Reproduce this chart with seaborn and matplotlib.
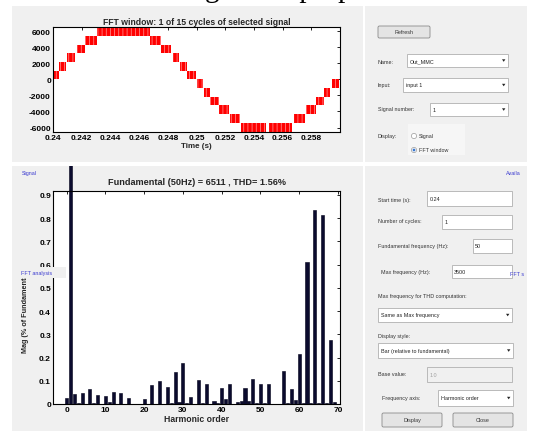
import numpy as np
import pandas as pd
import matplotlib
matplotlib.use("Agg")
from matplotlib import pyplot as plt
from matplotlib import font_manager
from matplotlib.patches import Rectangle, Circle, Polygon, FancyBboxPatch
import seaborn as sns

# ---- values ----
# top plot: PWM bands of the multilevel output voltage (s, V)
band_start = [0.24000, 0.24042, 0.24097, 0.24165, 0.24225, 0.24304, 0.24675, 0.24756,
              0.24833, 0.24884, 0.24935, 0.25000, 0.25051, 0.25097, 0.25157, 0.25232,
              0.25313, 0.25505, 0.25679, 0.25761, 0.25830, 0.25886, 0.25942]
band_end = [0.24042, 0.24088, 0.24151, 0.24225, 0.24304, 0.24675, 0.24756, 0.24819,
            0.24875, 0.24935, 0.25000, 0.25046, 0.25097, 0.25157, 0.25227, 0.25301,
            0.25482, 0.25668, 0.25754, 0.25830, 0.25886, 0.25932, 0.25993]
band_low = [0, 1083, 2167, 3250, 4333, 5417, 4333, 3250, 2167, 1083, 0, -1083,
            -2167, -3250, -4333, -5417, -6500, -6500, -5417, -4333, -3250, -2167, -1083]
band_high = [1083, 2167, 3250, 4333, 5417, 6500, 5417, 4333, 3250, 2167, 1083, 0,
             -1083, -2167, -3250, -4333, -5417, -5417, -4333, -3250, -2167, -1083, 0]

time_ticks = [0.24, 0.242, 0.244, 0.246, 0.248, 0.25, 0.252, 0.254, 0.256, 0.258]
time_labels = ['0.24', '0.242', '0.244', '0.246', '0.248', '0.25', '0.252', '0.254', '0.256', '0.258']
volt_ticks = [-6000, -4000, -2000, 0, 2000, 4000, 6000]

# bottom plot: harmonic spectrum, % of fundamental, orders 0..70
orders = list(range(71))
mag = [0.024, 100.0, 0.043, 0.003, 0.049, 0.002, 0.066, 0.003, 0.037, 0.002,
       0.034, 0.010, 0.050, 0.002, 0.046, 0.002, 0.024, 0.001, 0.002, 0.001,
       0.020, 0.002, 0.080, 0.002, 0.100, 0.002, 0.074, 0.003, 0.137, 0.008,
       0.177, 0.005, 0.030, 0.002, 0.104, 0.003, 0.087, 0.002, 0.014, 0.003,
       0.069, 0.023, 0.084, 0.002, 0.007, 0.013, 0.067, 0.011, 0.107, 0.004,
       0.084, 0.004, 0.084, 0.002, 0.002, 0.001, 0.140, 0.003, 0.066, 0.016,
       0.216, 0.003, 0.612, 0.004, 0.834, 0.003, 0.813, 0.004, 0.275, 0.007,
       0.002]
mag_ticks = [0, 0.1, 0.2, 0.3, 0.4, 0.5, 0.6, 0.7, 0.8, 0.9]
mag_labels = ['0', '0.1', '0.2', '0.3', '0.4', '0.5', '0.6', '0.7', '0.8', '0.9']
order_ticks = [0, 10, 20, 30, 40, 50, 60, 70]

spectrum = pd.DataFrame({'order': orders, 'mag': mag})

sns.set_style("white")
plt.rcParams['font.family'] = ['Liberation Sans', 'DejaVu Sans']
plt.rcParams['hatch.linewidth'] = 0.5

names = {f.name for f in font_manager.fontManager.ttflist}
if 'Liberation Sans Narrow' in names:
    ui_font, ui_size = 'Liberation Sans Narrow', 4.6
else:
    ui_font, ui_size = 'Liberation Sans', 3.9

W, H = 544, 439
fig = plt.figure(figsize=(W / 100, H / 100), dpi=100, facecolor='white')

# background layer in pixel coords (y down)
bg = fig.add_axes([0, 0, 1, 1], zorder=0)
bg.set_xlim(0, W)
bg.set_ylim(H, 0)
bg.axis('off')

panel_col = '#f0f0f0'
bg.add_patch(Rectangle((12, 7), 351, 156, facecolor=panel_col, edgecolor='none'))
bg.add_patch(Rectangle((365, 7), 162, 156, facecolor=panel_col, edgecolor='none'))
bl_panel = Rectangle((12, 167), 351, 265, facecolor=panel_col, edgecolor='none')
bg.add_patch(bl_panel)
bg.add_patch(Rectangle((365, 167), 162, 265, facecolor=panel_col, edgecolor='none'))


def label(x, y, s, color='#333333'):
    bg.text(x, y, s, fontsize=ui_size, family=ui_font, color=color, ha='left', va='center')


def edit(x0, y0, x1, y1, s, tx, face='white', tcol='#222222'):
    bg.add_patch(Rectangle((x0, y0), x1 - x0, y1 - y0, facecolor=face,
                           edgecolor='#b0b0b0', lw=0.6))
    label(tx, (y0 + y1) / 2, s, color=tcol)


def dropdown(x0, y0, x1, y1, s, tx):
    edit(x0, y0, x1, y1, s, tx)
    cy = (y0 + y1) / 2
    bg.add_patch(Polygon([(x1 - 6, cy - 1.2), (x1 - 2.6, cy - 1.2), (x1 - 4.3, cy + 1.3)],
                         closed=True, facecolor='#222222', edgecolor='none'))


def button(x0, y0, x1, y1, s):
    bg.add_patch(FancyBboxPatch((x0, y0), x1 - x0, y1 - y0, boxstyle='round,pad=0,rounding_size=1.5',
                                facecolor='#e4e4e4', edgecolor='#8a8a8a', lw=0.6))
    bg.text((x0 + x1) / 2, (y0 + y1) / 2, s, fontsize=ui_size, family=ui_font,
            color='#333333', ha='center', va='center')


# top right panel
button(378, 27, 430, 39, 'Refresh')
label(378, 62, 'Name:')
dropdown(407, 55, 508, 68, 'Out_MMC', 410)
label(378, 86, 'Input:')
dropdown(403, 79, 508, 93, 'input 1', 406)
label(378, 110, 'Signal number:')
dropdown(430, 104, 508, 117, '1', 433)
bg.add_patch(Rectangle((408, 125), 57, 31, facecolor='#f6f6f6', edgecolor='none'))
label(378, 137, 'Display:')
bg.add_patch(Circle((414, 137), 2.6, facecolor='white', edgecolor='#9a9a9a', lw=0.5))
label(419, 137, 'Signal')
bg.add_patch(Circle((414, 151), 2.6, facecolor='white', edgecolor='#9a9a9a', lw=0.5))
bg.add_patch(Circle((414, 151), 1.4, facecolor='#3a78d0', edgecolor='none'))
label(419, 151, 'FFT window')

# bottom right panel
label(378, 201, 'Start time (s):')
edit(427, 192, 512, 207, '0.24', 430)
label(378, 222, 'Number of cycles:')
edit(442, 216, 512, 230, '1', 445)
label(378, 247, 'Fundamental frequency (Hz):')
edit(473, 240, 512, 254, '50', 475)
label(381, 273, 'Max frequency (Hz):')
edit(452, 266, 512, 279, '3500', 454)
label(378, 297, 'Max frequency for THD computation:')
dropdown(378, 309, 512, 323, 'Same as Max frequency', 381)
label(378, 337, 'Display style:')
dropdown(378, 344, 513, 359, 'Bar (relative to fundamental)', 381)
label(378, 375, 'Base value:')
edit(427, 368, 512, 383, '1.0', 430, face=panel_col, tcol='#a0a0a0')
label(382, 399, 'Frequency axis:')
dropdown(438, 391, 513, 407, 'Harmonic order', 441)
button(382, 414, 442, 428, 'Display')
button(453, 414, 513, 428, 'Close')

tick_kw = dict(direction='in', length=2.5, width=0.6, top=True, right=True,
               labelsize=6, pad=1.5, colors='black')

# ---- top plot: selected signal window ----
ax1 = fig.add_axes([53 / W, 1 - 133 / H, 287 / W, 105 / H], zorder=2)
ax1.set_facecolor('white')
widths = [e - s for s, e in zip(band_start, band_end)]
heights = [h - l for l, h in zip(band_low, band_high)]
ax1.bar(band_start, heights, width=widths, bottom=band_low, align='edge',
        color='red', edgecolor='#ff9a9a', hatch='||||', linewidth=0)
ax1.set_xlim(0.24, 0.26)
ax1.set_ylim(-6560, 6540)
ax1.set_xticks(time_ticks)
ax1.set_xticklabels(time_labels, fontweight='bold')
ax1.set_yticks(volt_ticks)
ax1.set_yticklabels([str(v) for v in volt_ticks], fontweight='bold')
ax1.tick_params(**tick_kw)
ax1.set_title('FFT window: 1 of 15 cycles of selected signal', fontsize=6.2,
              fontweight='bold', pad=2.5)
ax1.set_xlabel('Time (s)', fontsize=5.8, fontweight='bold', labelpad=0.5)
for s in ax1.spines.values():
    s.set_linewidth(0.8)
    s.set_color('black')

# ---- bottom plot: FFT spectrum ----
ax2 = fig.add_axes([53 / W, 1 - 405 / H, 287 / W, 213 / H], zorder=2)
ax2.set_facecolor('white')
sns.barplot(data=spectrum, x='order', y='mag', native_scale=True, width=0.8,
            color='#0b0b2e', saturation=1, errorbar=None, edgecolor='#000018',
            linewidth=0.4, ax=ax2)
# fundamental bar runs off the axes up to the panel edge
for p in ax2.patches:
    if p.get_height() > 1:
        p.set_clip_path(bl_panel)
ax2.set_xlim(-3.5, 70.5)
ax2.set_ylim(0, 0.917)
ax2.set_xticks(order_ticks)
ax2.set_xticklabels([str(o) for o in order_ticks], fontweight='bold')
ax2.set_yticks(mag_ticks)
ax2.set_yticklabels(mag_labels, fontweight='bold')
ax2.tick_params(**tick_kw)
ax2.set_title('Fundamental (50Hz) = 6511 , THD= 1.56%', fontsize=6.6,
              fontweight='bold', pad=5)
ax2.set_xlabel('Harmonic order', fontsize=6.2, fontweight='bold', labelpad=0.5)
ax2.set_ylabel('Mag (% of Fundamental)', fontsize=5.2, fontweight='bold', labelpad=4)
ax2.yaxis.set_label_coords(-0.085, 0.44)
for s in ax2.spines.values():
    s.set_linewidth(0.8)
    s.set_color('black')

# ---- overlay: panel tags and the cut-off page text ----
ov = fig.add_axes([0, 0, 1, 1], zorder=5)
ov.set_xlim(0, W)
ov.set_ylim(H, 0)
ov.axis('off')
ov.patch.set_alpha(0)
blue = '#3a3ad0'
ov.text(22, 174, 'Signal', fontsize=ui_size, family=ui_font, color=blue, va='center')
ov.add_patch(Rectangle((19, 268), 47, 11, facecolor=panel_col, edgecolor='none'))
ov.text(21, 274, 'FFT analysis', fontsize=ui_size, family=ui_font, color=blue, va='center')
ov.text(506, 174, 'Availa', fontsize=ui_size, family=ui_font, color=blue, va='center')
ov.text(510, 275, 'FFT s', fontsize=ui_size, family=ui_font, color=blue, va='center')
# only the descenders of the page text above the screenshot show
ov.text(205, -3, 'g in the proper', family='Liberation Serif',
        fontsize=21, color='black', ha='left', va='baseline', clip_on=False)

fig.savefig('out.png', dpi=100, facecolor='white')
